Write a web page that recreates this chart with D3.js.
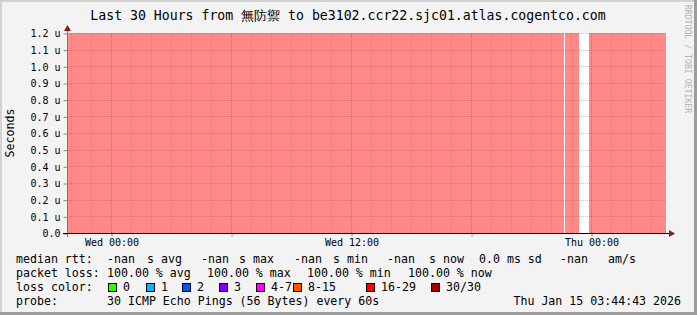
<!DOCTYPE html>
<html><head><meta charset="utf-8">
<script src="https://cdn.jsdelivr.net/npm/d3@7"></script>
<style>
html,body{margin:0;padding:0;background:#f3f3f3;}
svg{display:block;}
text{font-family:"DejaVu Sans Mono",monospace;fill:#000;}
</style></head><body>
<script>
// ---- data ----
const titleText = "Last 30 Hours from 無防禦 to be3102.ccr22.sjc01.atlas.cogentco.com";
const timeStart = "2026-01-13T21:48:00";
const timeEnd = "2026-01-15T03:48:00";
// periods with data (100% packet loss); gaps between = unknown
const lossStart = ["2026-01-13T21:44:43", "2026-01-14T22:42:00", "2026-01-14T23:54:00"];
const lossEnd   = ["2026-01-14T22:39:00", "2026-01-14T23:24:00", "2026-01-15T03:44:43"];
const lossPct   = [100, 100, 100];
const yTicks = [0, 0.1e-6, 0.2e-6, 0.3e-6, 0.4e-6, 0.5e-6, 0.6e-6, 0.7e-6, 0.8e-6, 0.9e-6, 1.0e-6, 1.1e-6, 1.2e-6];
const yTickLabels = ["0.0", "0.1 u", "0.2 u", "0.3 u", "0.4 u", "0.5 u", "0.6 u", "0.7 u", "0.8 u", "0.9 u", "1.0 u", "1.1 u", "1.2 u"];
const xLabelTimes = ["2026-01-14T00:00:00", "2026-01-14T12:00:00", "2026-01-15T00:00:00"];
const xLabels = ["Wed 00:00", "Wed 12:00", "Thu 00:00"];
const lossColorLabels = ["0", "1", "2", "3", "4-7", "8-15", "16-29", "30/30"];
const lossColors = ["#26ff00", "#00b8ff", "#0059ff", "#7e00ff", "#ff00ff", "#ff5500", "#ff0000", "#a10000"];
const rttLegend = ["-nan", "s avg", "-nan", "s max", "-nan", "s min", "-nan", "s now", "0.0 ms sd", "-nan", "am/s"];
const lossLegend = ["100.00 % avg", "100.00 % max", "100.00 % min", "100.00 % now"];
const probeText = "30 ICMP Echo Pings (56 Bytes) every 60s";
const stampText = "Thu Jan 15 03:44:43 2026";

// ---- layout ----
const W = 697, H = 315;
const X0 = 67, X1 = 667, Y0 = 233, Y1 = 33;
const svg = d3.select("body").append("svg").attr("width", W).attr("height", H);

// frame
svg.append("rect").attr("x",0).attr("y",0).attr("width",W).attr("height",H).attr("fill","#f3f3f3");
svg.append("rect").attr("x",0).attr("y",0).attr("width",2).attr("height",H).attr("fill","#d2d2d2");
svg.append("rect").attr("x",0).attr("y",0).attr("width",W).attr("height",2).attr("fill","#d2d2d2");
svg.append("rect").attr("x",W-3).attr("y",0).attr("width",3).attr("height",H).attr("fill","#9c9c9c");
svg.append("rect").attr("x",0).attr("y",H-3).attr("width",W).attr("height",3).attr("fill","#9c9c9c");

const parse = d3.isoParse;
const x = d3.scaleTime().domain([parse(timeStart), parse(timeEnd)]).range([X0, X1]);
const y = d3.scaleLinear().domain([0, 1.2e-6]).range([Y0, Y1]);

// plot background
svg.append("rect").attr("x",X0).attr("y",Y1).attr("width",X1-X0).attr("height",Y0-Y1).attr("fill","#ffffff");

// loss areas
const segs = lossStart.map((s,i)=>({s:parse(s), e:parse(lossEnd[i]), v:lossPct[i]}));
svg.append("g").selectAll("rect").data(segs).join("rect")
  .attr("x", d=>Math.max(X0, Math.round(x(d.s))))
  .attr("width", d=>Math.round(x(d.e)) - Math.max(X0, Math.round(x(d.s))))
  .attr("y", Y1).attr("height", Y0-Y1)
  .attr("fill", "#ff8888");

// grid
const minorTimes = d3.timeHour.every(1).range(x.domain()[0], x.domain()[1]);
const majorTimes = d3.timeHour.every(6).range(x.domain()[0], x.domain()[1]);
const g = svg.append("g");
g.selectAll("line.vmin").data(minorTimes.filter(t=>t.getHours()%6!==0)).join("line")
  .attr("x1", d=>Math.round(x(d))+0.5).attr("x2", d=>Math.round(x(d))+0.5)
  .attr("y1", Y0).attr("y2", Y1)
  .attr("stroke","rgba(190,90,90,0.35)").attr("stroke-dasharray","1,1");
g.selectAll("line.vmaj").data(majorTimes).join("line")
  .attr("x1", d=>Math.round(x(d))+0.5).attr("x2", d=>Math.round(x(d))+0.5)
  .attr("y1", Y0).attr("y2", Y1)
  .attr("stroke","rgba(230,40,40,0.45)").attr("stroke-dasharray","1,1");
g.selectAll("line.h").data(yTicks.slice(1)).join("line")
  .attr("x1", X0).attr("x2", X1)
  .attr("y1", d=>Math.round(y(d))+0.5).attr("y2", d=>Math.round(y(d))+0.5)
  .attr("stroke","rgba(230,40,40,0.4)").attr("stroke-dasharray","1,1");

// axes
const yAxis = d3.axisLeft(y).tickValues(yTicks).tickFormat((d,i)=>yTickLabels[i]).tickSize(4).tickPadding(3);
const ya = svg.append("g").attr("transform",`translate(${X0+0.5},0.5)`).call(yAxis);
ya.select(".domain").remove();
ya.selectAll(".tick line").attr("stroke","#888");
ya.selectAll("text").attr("font-size","10px").attr("font-family","DejaVu Sans Mono").attr("fill","#000");

const xAxis = d3.axisBottom(x).tickValues(majorTimes).tickFormat("").tickSize(3);
const xa = svg.append("g").attr("transform",`translate(0.5,${Y0+0.5})`).call(xAxis);
xa.select(".domain").remove();
xa.selectAll(".tick line").attr("stroke","#888");
svg.append("g").selectAll("text").data(xLabelTimes).join("text")
  .attr("x", d=>x(parse(d))+1).attr("y", 246)
  .attr("text-anchor","middle").attr("font-size","10px")
  .text((d,i)=>xLabels[i]);

// axis lines
svg.append("line").attr("x1",X0+0.5).attr("x2",X0+0.5).attr("y1",Y0+4).attr("y2",Y1-4).attr("stroke","#777");
svg.append("line").attr("x1",X0-4).attr("x2",X1+4).attr("y1",Y0+0.5).attr("y2",Y0+0.5).attr("stroke","#000");
svg.append("path").attr("d",`M${X0-3},${Y1-2}L${X0+4},${Y1-2}L${X0+0.5},${Y1-8}Z`).attr("fill","#8b1a1a");
svg.append("path").attr("d",`M${X1+2},${Y0-3}L${X1+2},${Y0+4}L${X1+8},${Y0+0.5}Z`).attr("fill","#8b1a1a");

// title
svg.append("text").attr("x", 348).attr("y", 19.5).attr("text-anchor","middle")
  .attr("font-size","13.2px").text(titleText);

// y title
svg.append("text").attr("transform","translate(14,133) rotate(-90)").attr("text-anchor","middle")
  .attr("font-size","11.6px").text("Seconds");

// watermark
svg.append("text").attr("transform","translate(685,59) rotate(90)").attr("text-anchor","middle")
  .attr("font-size","8.2px").style("fill","#b4b4b4").text("RRDTOOL / TOBI OETIKER");

// legend
const LF = "11.6px";
const leg = svg.append("g").attr("font-size", LF);
const row = (txt, xx, yy) => leg.append("text").attr("x", xx).attr("y", yy).attr("xml:space","preserve").text(txt);
row("median rtt:", 16, 263);
const rttX = [107, 147, 201, 239, 294, 333, 387, 429, 479, 560, 608];
rttLegend.forEach((t,i)=>row(t, rttX[i], 263));
row("packet loss:", 16, 277);
const lossX = [107, 207, 307, 408];
lossLegend.forEach((t,i)=>row(t, lossX[i], 277));
row("loss color:", 16, 291);
const boxX = [108, 146, 182, 219, 256, 293, 366, 431];
leg.selectAll("rect.lc").data(lossColors).join("rect")
  .attr("x", (d,i)=>boxX[i]+0.5).attr("y", 283.5).attr("width", 8).attr("height", 8)
  .attr("fill", d=>d).attr("stroke","#000");
lossColorLabels.forEach((t,i)=>row(t, boxX[i]+15, 291));
row("probe:", 16, 305);
row(probeText, 107, 305);
leg.append("text").attr("x", 681).attr("y", 305).attr("text-anchor","end").text(stampText);
</script>
</body></html>
